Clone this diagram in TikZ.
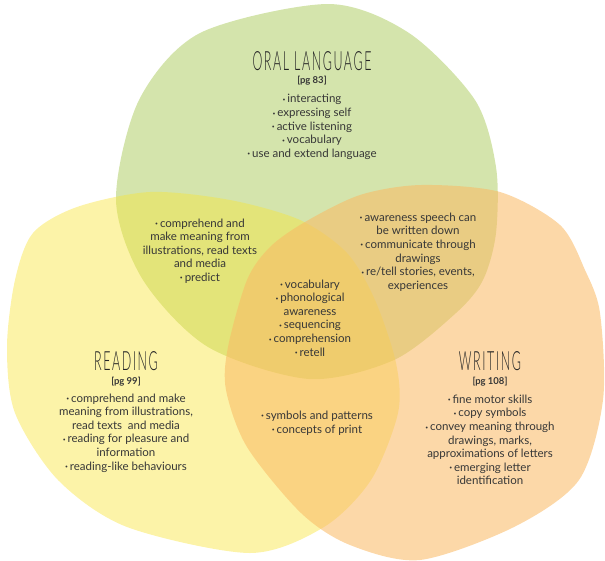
\documentclass[tikz,border=0pt]{standalone}
\usepackage{fontspec}
\setmainfont{Lato}
\newfontfamily\titlefont[FakeStretch=0.47,LetterSpace=6]{Lato Light}
\definecolor{oralgreen}{RGB}{212,228,172}
\definecolor{readyellow}{RGB}{248,228,57}
\definecolor{writeorange}{RGB}{250,186,100}
\definecolor{inkgray}{RGB}{55,55,55}
\newcommand{\bul}{\raisebox{.25ex}{\tiny\textbullet}\,}
\begin{document}
\begin{tikzpicture}[x=1pt,y=-1pt,
    txt/.style={align=center,text=inkgray,inner sep=0pt,font=\fontsize{11.5}{13.6}\selectfont},
    ttl/.style={text=black!85,inner sep=0pt,font=\titlefont\fontsize{26.5}{26.5}\selectfont},
    pgref/.style={text=inkgray,inner sep=0pt,font=\bfseries\fontsize{9.5}{10}\selectfont}]
    \useasboundingbox (0,0) rectangle (605,560);
    \fill[oralgreen] plot[smooth cycle] coordinates {(328,4) (409,33) (475,100) (496,167) (496,233)
        (483,280) (456,313) (394,360) (309,379) (208,347) (143,280) (116,200) (139,100) (200,33)};
    \fill[readyellow,fill opacity=0.44] plot[smooth cycle] coordinates {(150,192) (230,200) (300,220)
        (347,253) (375,300) (396,363) (398,413) (371,480) (324,527) (250,553) (127,527) (58,480)
        (15,413) (7,347) (15,280) (33,233) (77,207)};
    \fill[writeorange,fill opacity=0.56] plot[smooth cycle] coordinates {(421,185) (360,195) (305,222)
        (270,247) (247,280) (228,347) (226,390) (247,447) (301,513) (350,545) (420,560) (514,527)
        (579,480) (603,400) (600,313) (585,270) (560,225) (500,192)};

    \node[ttl] (oral) at (312,61) {ORAL LANGUAGE};
    \node[pgref] (oralpg) at (312,81) {[pg 83]};
    \node[txt] (orallist) at (312,127) {\bul interacting\\ \bul expressing self\\ \bul active listening\\
        \bul vocabulary\\ \bul use and extend language};

    \node[ttl] (read) at (126,361) {READING};
    \node[pgref] (readpg) at (126,382) {[pg 99]};
    \node[txt] (readlist) at (126,433) {\bul comprehend and make\\ meaning from illustrations,\\
        read texts\ \ and media\\ \bul reading for pleasure and\\ information\\ \bul reading-like behaviours};

    \node[ttl] (write) at (490,361) {WRITING};
    \node[pgref] (writepg) at (490,382) {[pg 108]};
    \node[txt] (writelist) at (490,440) {\bul fine motor skills\\ \bul copy symbols\\ \bul convey meaning through\\
        drawings, marks,\\ approximations of letters\\ \bul emerging letter\\ identification};

    \node[txt] (oralread) at (200,251) {\bul comprehend and\\ make meaning from\\ illustrations, read texts\\
        and media\\ \bul predict};
    \node[txt] (oralwrite) at (418,252) {\bul awareness speech can\\ be written down\\ \bul communicate through\\
        drawings\\ \bul re/tell stories, events,\\ experiences};
    \node[txt] (all) at (310,318) {\bul vocabulary\\ \bul phonological\\ awareness\\ \bul sequencing\\
        \bul comprehension\\ \bul retell};
    \node[txt] (readwrite) at (317,423) {\bul symbols and patterns\\ \bul concepts of print};
\end{tikzpicture}
\end{document}
